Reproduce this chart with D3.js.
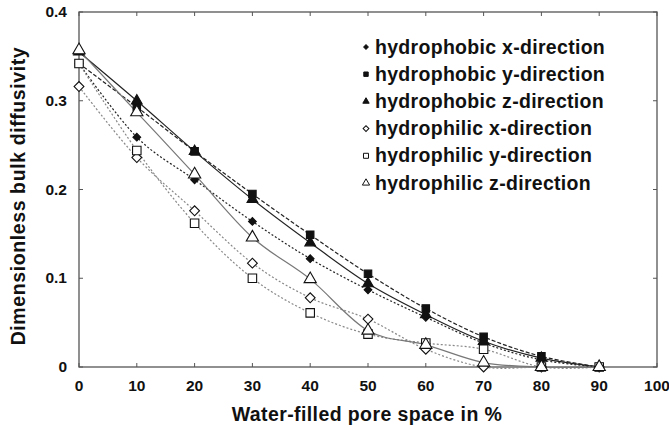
<!DOCTYPE html>
<html>
<head>
<meta charset="utf-8">
<script src="https://cdn.jsdelivr.net/npm/d3@7"></script>
<style>
  body { margin: 0; background: #fff; }
  text { font-family: Arial, "Liberation Sans", sans-serif; font-weight: bold; fill: #111; }
</style>
</head>
<body>
<div id="chart"></div>
<script>
const width = 669,
    height = 430;

const xTicks = [0, 10, 20, 30, 40, 50, 60, 70, 80, 90, 100];
const yTicks = [0, 0.1, 0.2, 0.3, 0.4];
const waterFilled = [0, 10, 20, 30, 40, 50, 60, 70, 80, 90];

const phobicX = [0.342, 0.259, 0.211, 0.164, 0.122, 0.087, 0.056, 0.027, 0.008, 0];
const phobicY = [0.342, 0.293, 0.243, 0.195, 0.149, 0.105, 0.066, 0.034, 0.012, 0];
const phobicZ = [0.355, 0.300, 0.243, 0.189, 0.140, 0.094, 0.059, 0.029, 0.010, 0];
const philicX = [0.316, 0.236, 0.176, 0.117, 0.078, 0.054, 0.020, 0.000, 0, 0];
const philicY = [0.342, 0.244, 0.162, 0.100, 0.061, 0.037, 0.027, 0.020, 0, 0];
const philicZ = [0.357, 0.287, 0.217, 0.146, 0.099, 0.041, 0.025, 0.005, 0, 0];

const seriesNames = [
  "hydrophobic x-direction", "hydrophobic y-direction", "hydrophobic z-direction",
  "hydrophilic x-direction", "hydrophilic y-direction", "hydrophilic z-direction"
];

// diamond = square turned 45 degrees (Excel style)
const series = [
  { name: seriesNames[0], values: phobicX, symbol: d3.symbolSquare, rot: 45, size: 30, fill: "#111", line: "#222", dash: "2,2" },
  { name: seriesNames[1], values: phobicY, symbol: d3.symbolSquare, rot: 0, size: 56, fill: "#111", line: "#222", dash: "4,2" },
  { name: seriesNames[2], values: phobicZ, symbol: d3.symbolTriangle, rot: 0, size: 50, fill: "#111", line: "#222", dash: null },
  { name: seriesNames[3], values: philicX, symbol: d3.symbolSquare, rot: 45, size: 48, fill: "#fff", line: "#888", dash: "2,2" },
  { name: seriesNames[4], values: philicY, symbol: d3.symbolSquare, rot: 0, size: 72, fill: "#fff", line: "#888", dash: "2,2" },
  { name: seriesNames[5], values: philicZ, symbol: d3.symbolTriangle, rot: 0, size: 65, fill: "#fff", line: "#777", dash: null }
];

const margin = { top: 12, right: 12, bottom: 63, left: 79 };

const svg = d3.select("#chart").append("svg")
    .attr("width", width)
    .attr("height", height);

const x = d3.scaleLinear().domain([0, 100]).range([margin.left, width - margin.right]);
const y = d3.scaleLinear().domain([0, 0.4]).range([height - margin.bottom, margin.top]);

// frame
svg.append("rect")
  .attr("x", x(0)).attr("y", y(0.4))
  .attr("width", x(100) - x(0)).attr("height", y(0) - y(0.4))
  .attr("fill", "none").attr("stroke", "#555").attr("stroke-width", 1.3);

// inward ticks on all four sides
xTicks.forEach(t => {
  svg.append("line").attr("x1", x(t)).attr("x2", x(t)).attr("y1", y(0)).attr("y2", y(0) - 4).attr("stroke", "#555");
  svg.append("line").attr("x1", x(t)).attr("x2", x(t)).attr("y1", y(0.4)).attr("y2", y(0.4) + 4).attr("stroke", "#555");
});
yTicks.forEach(t => {
  svg.append("line").attr("x1", x(0)).attr("x2", x(0) + 4).attr("y1", y(t)).attr("y2", y(t)).attr("stroke", "#555");
  svg.append("line").attr("x1", x(100)).attr("x2", x(100) - 4).attr("y1", y(t)).attr("y2", y(t)).attr("stroke", "#555");
});

svg.selectAll(".xlabel")
  .data(xTicks)
  .enter().append("text")
  .attr("class", "xlabel")
  .attr("x", d => x(d))
  .attr("y", y(0) + 24)
  .attr("text-anchor", "middle")
  .style("font-size", "15.5px")
  .text(d => d);

svg.selectAll(".ylabel")
  .data(yTicks)
  .enter().append("text")
  .attr("class", "ylabel")
  .attr("x", x(0) - 12)
  .attr("y", d => y(d) + 5)
  .attr("text-anchor", "end")
  .style("font-size", "15.5px")
  .text(d => d === 0 ? "0" : d3.format(".1f")(d));

svg.append("text")
  .attr("x", 367)
  .attr("y", 421)
  .attr("text-anchor", "middle")
  .style("font-size", "19.5px")
  .style("letter-spacing", "0.4px")
  .text("Water-filled pore space in %");

svg.append("text")
  .attr("transform", "translate(25," + 196 + ") rotate(-90)")
  .attr("text-anchor", "middle")
  .style("font-size", "19.5px")
  .style("letter-spacing", "0.6px")
  .text("Dimensionless bulk diffusivity");

const line = d3.line()
  .x((d, i) => x(waterFilled[i]))
  .y(d => y(d))
  .curve(d3.curveCardinal.tension(0));

series.forEach(s => {
  svg.append("path")
    .datum(s.values)
    .attr("fill", "none")
    .attr("stroke", s.line)
    .attr("stroke-width", 1.2)
    .attr("stroke-dasharray", s.dash)
    .attr("d", line);
});

series.forEach(s => {
  svg.selectAll(null)
    .data(s.values)
    .enter().append("path")
    .attr("transform", (d, i) => `translate(${x(waterFilled[i])},${y(d)}) rotate(${s.rot})`)
    .attr("d", d3.symbol(s.symbol, s.size))
    .attr("fill", s.fill)
    .attr("stroke", "#111")
    .attr("stroke-width", 1.1);
});

// legend
const legend = svg.append("g").attr("transform", "translate(366,47)");
series.forEach((s, i) => {
  const row = legend.append("g").attr("transform", `translate(0,${i * 27.2})`);
  row.append("path")
    .attr("transform", `rotate(${s.rot})`)
    .attr("d", d3.symbol(s.symbol, s.size * 0.35))
    .attr("fill", s.fill)
    .attr("stroke", "#111")
    .attr("stroke-width", 1);
  row.append("text")
    .attr("x", 9)
    .attr("y", 6.5)
    .style("font-size", "19.5px")
    .style("letter-spacing", "0.3px")
    .text(s.name);
});
</script>
</body>
</html>
